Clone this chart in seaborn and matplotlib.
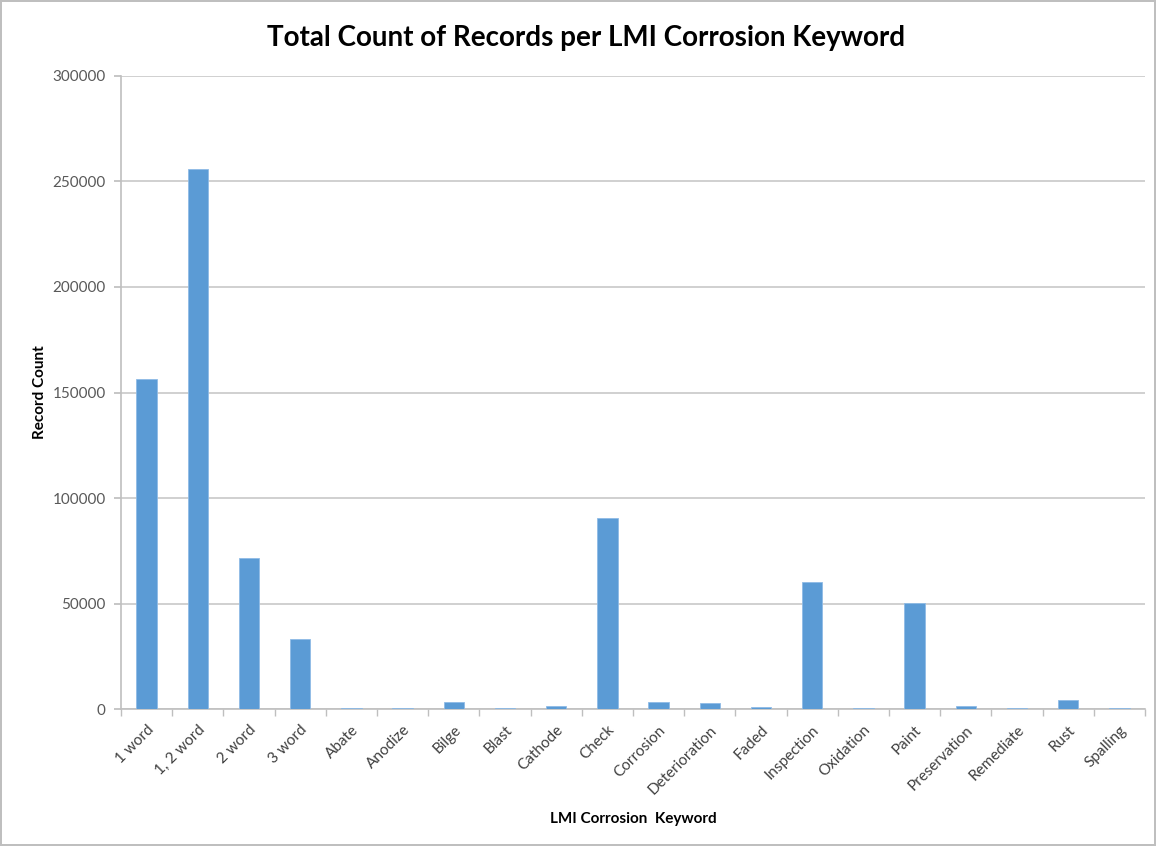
import matplotlib
matplotlib.use("Agg")
import matplotlib.pyplot as plt
import seaborn as sns
import numpy as np
from matplotlib.ticker import FixedLocator

categories = ["1 word", "1, 2 word", "2 word", "3 word", "Abate", "Anodize", "Bilge",
              "Blast", "Cathode", "Check", "Corrosion", "Deterioration", "Faded",
              "Inspection", "Oxidation", "Paint", "Preservation", "Remediate", "Rust",
              "Spalling"]
counts = [156400, 255700, 71400, 33400, 700, 700, 3200, 700, 1400, 90600, 3200, 2800,
          1100, 60100, 600, 50300, 1400, 700, 4200, 700]
yticks = [0, 50000, 100000, 150000, 200000, 250000, 300000]

sns.set_theme(style="white")
plt.rcParams['font.family'] = ['Lato', 'DejaVu Sans']

fig = plt.figure(figsize=(11.56, 8.46), dpi=100)
fig.patch.set_edgecolor("#bfbfbf")
fig.patch.set_linewidth(1.5)
ax = fig.add_axes([0.1047, 0.1619, 0.8858, 0.7483])

sns.barplot(x=categories, y=counts, color="#5B9BD5", saturation=1, width=0.4, ax=ax,
            edgecolor="#8fbbe6", linewidth=0.6, zorder=3)

ax.set_ylim(0, 300000)
ax.set_xlim(-0.5, len(categories) - 0.5)
ax.set_yticks(yticks)
ax.set_yticklabels([str(v) for v in yticks], fontsize=11, color="#595959")
ax.yaxis.grid(True, color="#c8c8c8", linewidth=1.2)
ax.set_axisbelow(True)

for s in ["top", "right"]:
    ax.spines[s].set_visible(False)
for s in ["left", "bottom"]:
    ax.spines[s].set_color("#bfbfbf")
    ax.spines[s].set_linewidth(1.2)
    ax.spines[s].set_zorder(2)

ax.tick_params(axis="y", which="major", left=True, length=5, color="#bfbfbf", pad=6)
ax.tick_params(axis="x", which="major", bottom=False, pad=4)
ax.xaxis.set_minor_locator(FixedLocator(np.arange(-0.5, len(categories), 1.0)))
ax.tick_params(axis="x", which="minor", bottom=True, length=5, color="#bfbfbf", width=1)
plt.setp(ax.get_xticklabels(), rotation=45, ha="right", rotation_mode="anchor",
         fontsize=11, color="#404040")

ax.set_xlabel("LMI Corrosion  Keyword", fontsize=11, fontweight="bold", color="#000000",
              labelpad=11)
ax.set_ylabel("Record Count", fontsize=11, fontweight="bold", color="#000000", labelpad=4)
fig.text(0.507, 0.955, "Total Count of Records per LMI Corrosion Keyword", ha="center",
         va="center", fontsize=20, fontweight="bold", color="#000000")

fig.savefig("out.png", dpi=100, edgecolor=fig.get_edgecolor())
